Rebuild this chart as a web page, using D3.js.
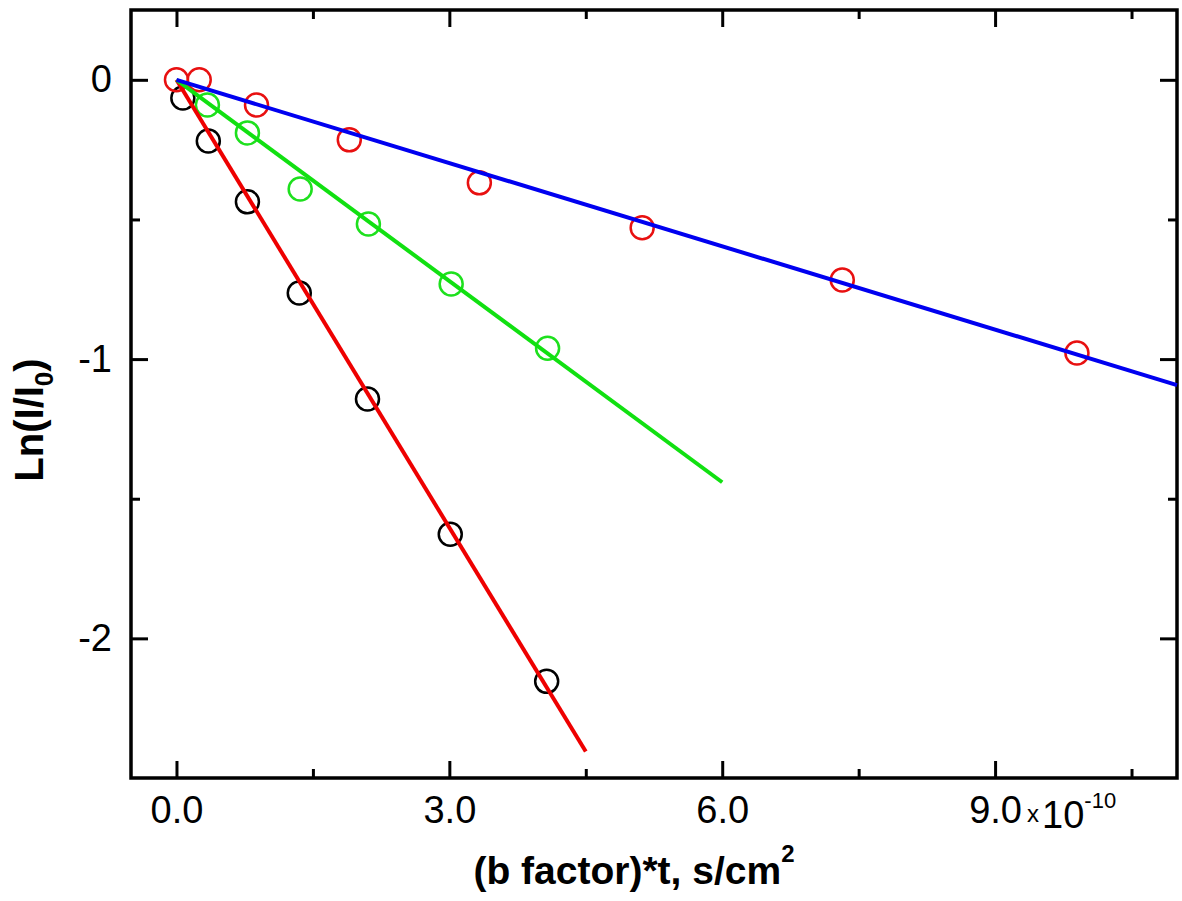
<!DOCTYPE html>
<html>
<head>
<meta charset="utf-8">
<script src="https://cdn.jsdelivr.net/npm/d3@7"></script>
<style>
  html, body { margin: 0; padding: 0; background: #fff; }
  svg { display: block; font-family: "Liberation Sans", Arial, sans-serif; }
</style>
</head>
<body>
<div id="chart"></div>
<script>
// measured points (x in units of 1e-10 s/cm^2)
const blackX = [0.07, 0.35, 0.78, 1.35, 2.10, 3.01, 4.07];
const blackY = [-0.065, -0.219, -0.437, -0.763, -1.143, -1.627, -2.154];
const greenX = [0.34, 0.78, 1.36, 2.11, 3.02, 4.08];
const greenY = [-0.090, -0.190, -0.391, -0.516, -0.731, -0.961];
const redX = [0, 0.25, 0.88, 1.90, 3.33, 5.12, 7.32, 9.90];
const redY = [0, 0, -0.090, -0.215, -0.369, -0.530, -0.717, -0.978];

// linear fits (start, end)
const fitRedX = [0, 4.5], fitRedY = [0, -2.405];
const fitGreenX = [0, 6.0], fitGreenY = [0, -1.441];
const fitBlueX = [0, 11.0], fitBlueY = [0, -1.093];

const xMajor = [0, 3, 6, 9];
const xMinor = [1.5, 4.5, 7.5, 10.5];
const yMajor = [0, -1, -2];
const yMinor = [-0.5, -1.5];
const xTickLabels = ['0.0', '3.0', '6.0', '9.0'];
const yTickLabels = ['0', '-1', '-2'];

const W = 1182, H = 901;
const m = { left: 131, top: 10, right: 5, bottom: 123 };
const iw = W - m.left - m.right, ih = H - m.top - m.bottom;

const x = d3.scaleLinear().domain([-0.5, 11.0]).range([0, iw]);
const y = d3.scaleLinear().domain([-2.5, 0.25]).range([ih, 0]);

const svg = d3.select('#chart').append('svg')
    .attr('width', W).attr('height', H);
const g = svg.append('g').attr('transform', `translate(${m.left},${m.top})`);

// ticks on all four sides, pointing inward
function styleAxis(sel) {
    sel.select('.domain').remove();
    sel.selectAll('.tick line').attr('stroke', '#000').attr('stroke-width', 3);
    sel.selectAll('text').attr('fill', '#000');
}
const majorLen = 17, minorLen = 9;
const tickFont = 38;

g.append('g').attr('transform', `translate(0,${ih})`)
    .call(d3.axisBottom(x).tickValues(xMajor).tickSize(-majorLen).tickPadding(18)
        .tickFormat((d, i) => xTickLabels[i]))
    .call(styleAxis)
    .selectAll('text').attr('font-size', tickFont);
g.append('g').attr('transform', `translate(0,${ih})`)
    .call(d3.axisBottom(x).tickValues(xMinor).tickSize(-minorLen).tickFormat(''))
    .call(styleAxis);
g.append('g')
    .call(d3.axisTop(x).tickValues(xMajor).tickSize(-majorLen).tickFormat(''))
    .call(styleAxis);
g.append('g')
    .call(d3.axisTop(x).tickValues(xMinor).tickSize(-minorLen).tickFormat(''))
    .call(styleAxis);

g.append('g')
    .call(d3.axisLeft(y).tickValues(yMajor).tickSize(-majorLen).tickPadding(19)
        .tickFormat((d, i) => yTickLabels[i]))
    .call(styleAxis)
    .selectAll('text').attr('font-size', tickFont);
g.append('g')
    .call(d3.axisLeft(y).tickValues(yMinor).tickSize(-minorLen).tickFormat(''))
    .call(styleAxis);
g.append('g').attr('transform', `translate(${iw},0)`)
    .call(d3.axisRight(y).tickValues(yMajor).tickSize(-majorLen).tickFormat(''))
    .call(styleAxis);
g.append('g').attr('transform', `translate(${iw},0)`)
    .call(d3.axisRight(y).tickValues(yMinor).tickSize(-minorLen).tickFormat(''))
    .call(styleAxis);

// frame
g.append('rect').attr('width', iw).attr('height', ih)
    .attr('fill', 'none').attr('stroke', '#000').attr('stroke-width', 3.5);

// scatter points
const series = [
    { xs: blackX, ys: blackY, color: '#000000' },
    { xs: greenX, ys: greenY, color: '#1ee01e' },
    { xs: redX, ys: redY, color: '#e81010' }
];
series.forEach(s => {
    g.append('g').selectAll('circle')
        .data(s.xs.map((v, i) => [v, s.ys[i]]))
        .join('circle')
        .attr('cx', d => x(d[0]))
        .attr('cy', d => y(d[1]))
        .attr('r', 11.5)
        .attr('fill', 'none')
        .attr('stroke', s.color)
        .attr('stroke-width', 2.5);
});

// fit lines on top
const line = d3.line().x(d => x(d[0])).y(d => y(d[1]));
const fits = [
    { xs: fitRedX, ys: fitRedY, color: '#ee0000' },
    { xs: fitGreenX, ys: fitGreenY, color: '#11e011' },
    { xs: fitBlueX, ys: fitBlueY, color: '#0000f0' }
];
fits.forEach(f => {
    g.append('path')
        .datum(f.xs.map((v, i) => [v, f.ys[i]]))
        .attr('d', line)
        .attr('fill', 'none')
        .attr('stroke', f.color)
        .attr('stroke-width', 4);
});

// exponent next to the 9.0 label
const mult = svg.append('text')
    .attr('x', m.left + x(9) + 32).attr('y', m.top + ih + 50)
    .attr('font-size', tickFont).attr('fill', '#000');
mult.append('tspan').attr('font-size', 24).attr('dy', -6).text('x');
mult.append('tspan').attr('dx', 3).attr('dy', 6).text('10');
mult.append('tspan').attr('font-size', 22).attr('dy', -20).text('-10');

// axis titles
const xt = svg.append('text')
    .attr('x', 634).attr('y', 884)
    .attr('text-anchor', 'middle')
    .attr('font-size', 39).attr('font-weight', 'bold');
xt.append('tspan').text('(b factor)*t, s/cm');
xt.append('tspan').attr('font-size', 24).attr('dy', -22).text('2');

const yt = svg.append('text')
    .attr('transform', 'translate(43,420) rotate(-90)')
    .attr('text-anchor', 'middle')
    .attr('font-size', 40).attr('font-weight', 'bold');
yt.append('tspan').text('Ln(I/I');
yt.append('tspan').attr('font-size', 26).attr('dy', 10).text('0');
yt.append('tspan').attr('dy', -10).text(')');
</script>
</body>
</html>
